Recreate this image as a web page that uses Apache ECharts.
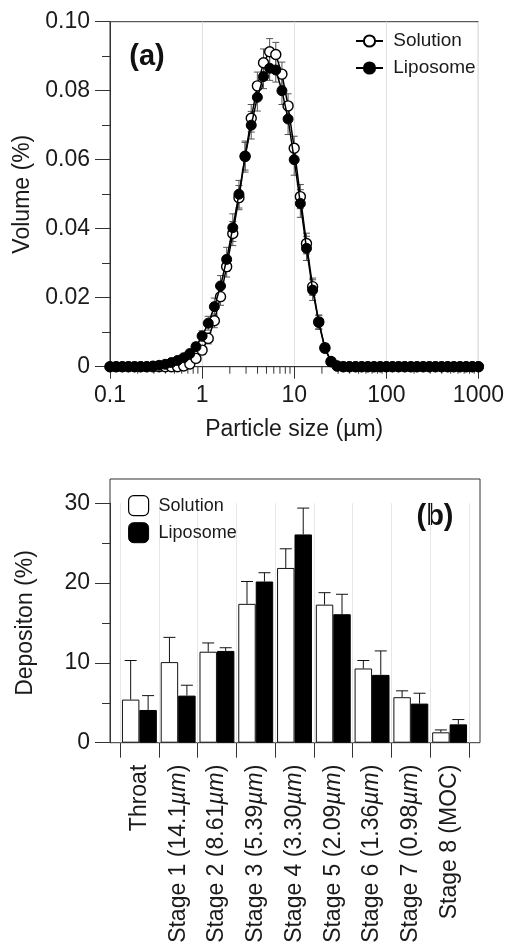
<!DOCTYPE html>
<html>
<head>
<meta charset="utf-8">
<script src="https://cdn.jsdelivr.net/npm/echarts@6/dist/echarts.min.js"></script>
<style>html,body{margin:0;padding:0;background:#fff;}#c{width:507px;height:948px;}</style>
</head>
<body>
<div id="c"></div>
<script>
// ---- Panel (a): particle size distribution ----
const sizes = [0.1,0.1166,0.1359,0.1585,0.1848,0.2154,0.2512,0.2929,0.3415,0.3981,
  0.4642,0.5412,0.631,0.7356,0.8577,1.0,1.166,1.359,1.585,1.848,
  2.154,2.512,2.929,3.415,3.981,4.642,5.412,6.31,7.356,8.577,
  10,11.66,13.59,15.85,18.48,21.54,25.12,29.29,34.15,39.81,
  46.42,54.12,63.1,73.56,85.77,100,116.6,135.9,158.5,184.8,
  215.4,251.2,292.9,341.5,398.1,464.2,541.2,631,735.6,857.7,1000];
const solutionVol = [0,0,0,0,0,0,0,0,0,0,
  0,0,0.0002,0.0008,0.0024,0.0048,0.0082,0.0133,0.0203,0.029,
  0.0386,0.049,0.061,0.072,0.0814,0.0881,0.0913,0.0905,0.0848,0.0756,
  0.0633,0.0493,0.0357,0.0232,0.013,0.0055,0.0015,0.0002,0,0,
  0,0,0,0,0,0,0,0,0,0,
  0,0,0,0,0,0,0,0,0,0,0];
const solutionVolErr = [0,0,0,0,0,0,0,0,0,0,
  0,0,0,0.0004,0.0008,0.0012,0.0016,0.002,0.0025,0.003,
  0.0035,0.0035,0.004,0.004,0.004,0.004,0.0038,0.0035,0.0035,0.0035,
  0.0035,0.0035,0.003,0.0025,0.002,0.0012,0.0006,0,0,0,
  0,0,0,0,0,0,0,0,0,0,
  0,0,0,0,0,0,0,0,0,0,0];
const liposomeVol = [0,0,0,0,0,0,0,0.0002,0.0004,0.0007,
  0.0012,0.0018,0.0026,0.0038,0.0058,0.0089,0.0126,0.0174,0.0234,0.0311,
  0.0403,0.05,0.0609,0.07,0.0781,0.0841,0.0865,0.086,0.08,0.0718,
  0.06,0.0473,0.0343,0.0222,0.0128,0.0053,0.0014,0.0002,0,0,
  0,0,0,0,0,0,0,0,0,0,
  0,0,0,0,0,0,0,0,0,0,0];
const liposomeVolErr = [0,0,0,0,0,0,0,0,0,0,
  0.0003,0.0005,0.0007,0.001,0.0012,0.0015,0.002,0.0025,0.003,0.0035,
  0.004,0.004,0.0045,0.004,0.004,0.0035,0.0035,0.0035,0.004,0.0045,
  0.0045,0.004,0.0035,0.003,0.002,0.0012,0.0005,0,0,0,
  0,0,0,0,0,0,0,0,0,0,
  0,0,0,0,0,0,0,0,0,0,0];
const xMinorTicks = [0.2,0.3,0.4,0.5,0.6,0.7,0.8,0.9,2,3,4,5,6,7,8,9,
  20,30,40,50,60,70,80,90,200,300,400,500,600,700,800,900];

// ---- Panel (b): deposition ----
const stages = ['Throat','Stage 1 (14.1µm)','Stage 2 (8.61µm)','Stage 3 (5.39µm)','Stage 4 (3.30µm)',
  'Stage 5 (2.09µm)','Stage 6 (1.36µm)','Stage 7 (0.98µm)','Stage 8 (MOC)'];
const solutionDep = [5.4,10.1,11.4,17.4,21.9,17.3,9.3,5.7,1.3];
const solutionDepErr = [4.9,3.1,1.1,2.8,2.4,1.5,1.0,0.8,0.3];
const liposomeDep = [4.1,5.9,11.5,20.2,26.1,16.1,8.5,4.9,2.3];
const liposomeDepErr = [1.8,1.3,0.4,1.1,3.3,2.5,3.0,1.3,0.6];

const FONT = 'Liberation Sans, Arial, Helvetica, sans-serif';
const TXT = '#1a1a1a';
const AX = '#333';

function errBars(params, api) {
  const x = api.value(0), y = api.value(1), e = api.value(2);
  if (!e) return null;
  const hi = api.coord([x, y + e]), lo = api.coord([x, y - e]);
  const w = 3.5, st = {stroke: '#555', lineWidth: 1};
  return {type: 'group', children: [
    {type: 'line', shape: {x1: hi[0], y1: hi[1], x2: lo[0], y2: lo[1]}, style: st},
    {type: 'line', shape: {x1: hi[0] - w, y1: hi[1], x2: hi[0] + w, y2: hi[1]}, style: st},
    {type: 'line', shape: {x1: lo[0] - w, y1: lo[1], x2: lo[0] + w, y2: lo[1]}, style: st}
  ]};
}
function barErr(sign) {
  return function (params, api) {
    const i = api.value(0), v = api.value(1), e = api.value(2);
    const base = api.coord([i, v]), top = api.coord([i, v + e]);
    const bw = api.size([1, 0])[0];
    const cx = base[0] + sign * 0.225 * bw;
    const w = 6, st = {stroke: '#111', lineWidth: 1};
    return {type: 'group', children: [
      {type: 'line', shape: {x1: cx, y1: base[1], x2: cx, y2: top[1]}, style: st},
      {type: 'line', shape: {x1: cx - w, y1: top[1], x2: cx + w, y2: top[1]}, style: st}
    ]};
  };
}

const chart = echarts.init(document.getElementById('c'), null, {renderer: 'canvas'});
chart.setOption({
  backgroundColor: '#fff',
  animation: false,
  textStyle: {fontFamily: FONT, color: TXT},
  grid: [
    {left: 110, right: 27, top: 21.7, bottom: 581.3, show: true, borderColor: AX, borderWidth: 1},
    {left: 110, right: 27, top: 479, bottom: 205.3, show: true, borderColor: AX, borderWidth: 1},
    {left: 120, right: 38, top: 503.3, bottom: 205.3}
  ],
  legend: [
    {
      data: ['Solution', 'Liposome'], orient: 'vertical', left: 350, top: 26.5,
      itemWidth: 27, itemHeight: 14, itemGap: 8,
      formatter: n => ' ' + n,
      textStyle: {fontFamily: FONT, fontSize: 19, color: TXT},
      selectedMode: false
    },
    {
      data: [
        {name: 'Solution ', icon: 'roundRect', itemStyle: {color: '#fff', borderColor: '#000', borderWidth: 1.2}},
        {name: 'Liposome ', icon: 'roundRect', itemStyle: {color: '#000', borderColor: '#000', borderWidth: 1}}
      ],
      orient: 'vertical', left: 123, top: 490, itemWidth: 20, itemHeight: 20, itemGap: 6,
      formatter: n => ' ' + n.trim(),
      textStyle: {fontFamily: FONT, fontSize: 18, color: TXT},
      selectedMode: false
    }
  ],
  xAxis: [
    {
      type: 'log', logBase: 10, min: 0.1, max: 1000, gridIndex: 0,
      axisLine: {lineStyle: {color: AX, width: 1}},
      axisTick: {length: 12, lineStyle: {color: AX}},
      axisLabel: {fontSize: 23, color: TXT, fontFamily: FONT, margin: 17,
        formatter: v => String(+(+v).toPrecision(4))},
      splitLine: {show: true, lineStyle: {color: '#e2e2e2', width: 1}},
      name: 'Particle size (µm)', nameLocation: 'middle', nameGap: 51,
      nameTextStyle: {fontSize: 23, color: TXT, fontFamily: FONT}
    },
    {type: 'value', gridIndex: 1, show: false, min: 0, max: 1},
    {
      type: 'category', gridIndex: 2, data: stages,
      axisLine: {show: false},
      axisTick: {show: true, length: 15, interval: 0, alignWithLabel: false, lineStyle: {color: AX}},
      splitLine: {show: true, interval: 0, lineStyle: {color: '#e6e6e6', width: 1}},
      axisLabel: {
        rotate: 90, interval: 0, margin: 22, fontSize: 23, color: TXT, fontFamily: FONT,
        formatter: s => s.indexOf('µm') >= 0
          ? '{n|' + s.replace('µm)', '') + '}{i|µm}{n|)}'
          : '{n|' + s + '}',
        rich: {
          n: {fontSize: 23, color: TXT, fontFamily: FONT},
          i: {fontSize: 23, color: TXT, fontFamily: FONT, fontStyle: 'italic'}
        }
      }
    }
  ],
  yAxis: [
    {
      type: 'value', min: 0, max: 0.1, interval: 0.02, gridIndex: 0,
      axisLine: {show: true, lineStyle: {color: AX, width: 1}},
      axisTick: {show: true, length: 15, lineStyle: {color: AX}},
      minorTick: {show: true, splitNumber: 2, length: 8, lineStyle: {color: AX}},
      splitLine: {show: false},
      axisLabel: {fontSize: 23, color: TXT, fontFamily: FONT, margin: 20,
        formatter: v => v === 0 ? '0' : v.toFixed(2)},
      name: 'Volume (%)', nameLocation: 'middle', nameGap: 73,
      nameTextStyle: {fontSize: 23, color: TXT, fontFamily: FONT}
    },
    {type: 'value', gridIndex: 1, show: false, min: 0, max: 1},
    {
      type: 'value', min: 0, max: 30, interval: 10, gridIndex: 2, offset: 10,
      axisLine: {show: true, lineStyle: {color: AX, width: 1}},
      axisTick: {show: true, length: 15, lineStyle: {color: AX}},
      minorTick: {show: true, splitNumber: 2, length: 8, lineStyle: {color: AX}},
      splitLine: {show: false},
      axisLabel: {fontSize: 23, color: TXT, fontFamily: FONT, margin: 20},
      name: 'Depositon (%)', nameLocation: 'middle', nameGap: 73,
      nameTextStyle: {fontSize: 23, color: TXT, fontFamily: FONT}
    }
  ],
  graphic: [
    {type: 'text', x: 147, y: 57, silent: true,
      style: {text: '(a)', font: 'bold 29px ' + FONT, fill: '#111', align: 'center', verticalAlign: 'middle'}},
    {type: 'text', x: 435, y: 517, silent: true,
      style: {text: '(b)', font: 'bold 29px ' + FONT, fill: '#111', align: 'center', verticalAlign: 'middle'}}
  ],
  series: [
    {
      type: 'custom', name: 'xminor', xAxisIndex: 0, yAxisIndex: 0, silent: true, clip: false,
      data: xMinorTicks.map(v => [v, 0]),
      renderItem: (p, api) => {
        const c = api.coord([api.value(0), 0]);
        return {type: 'line', shape: {x1: c[0], y1: c[1], x2: c[0], y2: c[1] + 7}, style: {stroke: AX, lineWidth: 1}};
      }
    },
    {
      type: 'custom', name: 'solErr', xAxisIndex: 0, yAxisIndex: 0, silent: true, clip: false,
      data: sizes.map((x, i) => [x, solutionVol[i], solutionVolErr[i]]),
      encode: {x: 0, y: 1}, renderItem: errBars, z: 2
    },
    {
      type: 'custom', name: 'lipErr', xAxisIndex: 0, yAxisIndex: 0, silent: true, clip: false,
      data: sizes.map((x, i) => [x, liposomeVol[i], liposomeVolErr[i]]),
      encode: {x: 0, y: 1}, renderItem: errBars, z: 2
    },
    {
      type: 'line', name: 'Solution', xAxisIndex: 0, yAxisIndex: 0, silent: true,
      data: sizes.map((x, i) => [x, solutionVol[i]]),
      symbol: 'circle', symbolSize: 10, showAllSymbol: true,
      lineStyle: {color: '#000', width: 1.5},
      itemStyle: {color: '#fff', borderColor: '#000', borderWidth: 1.4},
      z: 3
    },
    {
      type: 'line', name: 'Liposome', xAxisIndex: 0, yAxisIndex: 0, silent: true,
      data: sizes.map((x, i) => [x, liposomeVol[i]]),
      symbol: 'circle', symbolSize: 10, showAllSymbol: true,
      lineStyle: {color: '#000', width: 1.5},
      itemStyle: {color: '#000', borderColor: '#000', borderWidth: 1},
      z: 4
    },
    {
      type: 'bar', name: 'Solution ', xAxisIndex: 2, yAxisIndex: 2, silent: true,
      data: solutionDep, barGap: '0%', barCategoryGap: '10%',
      itemStyle: {color: '#fff', borderColor: '#111', borderWidth: 1}
    },
    {
      type: 'bar', name: 'Liposome ', xAxisIndex: 2, yAxisIndex: 2, silent: true,
      data: liposomeDep, barGap: '0%', barCategoryGap: '10%',
      itemStyle: {color: '#000', borderColor: '#000', borderWidth: 1}
    },
    {
      type: 'custom', name: 'solDepErr', xAxisIndex: 2, yAxisIndex: 2, silent: true, clip: false,
      data: solutionDep.map((v, i) => [i, v, solutionDepErr[i]]),
      encode: {x: 0, y: 1}, renderItem: barErr(-1), z: 5
    },
    {
      type: 'custom', name: 'lipDepErr', xAxisIndex: 2, yAxisIndex: 2, silent: true, clip: false,
      data: liposomeDep.map((v, i) => [i, v, liposomeDepErr[i]]),
      encode: {x: 0, y: 1}, renderItem: barErr(1), z: 5
    }
  ]
});
</script>
</body>
</html>
